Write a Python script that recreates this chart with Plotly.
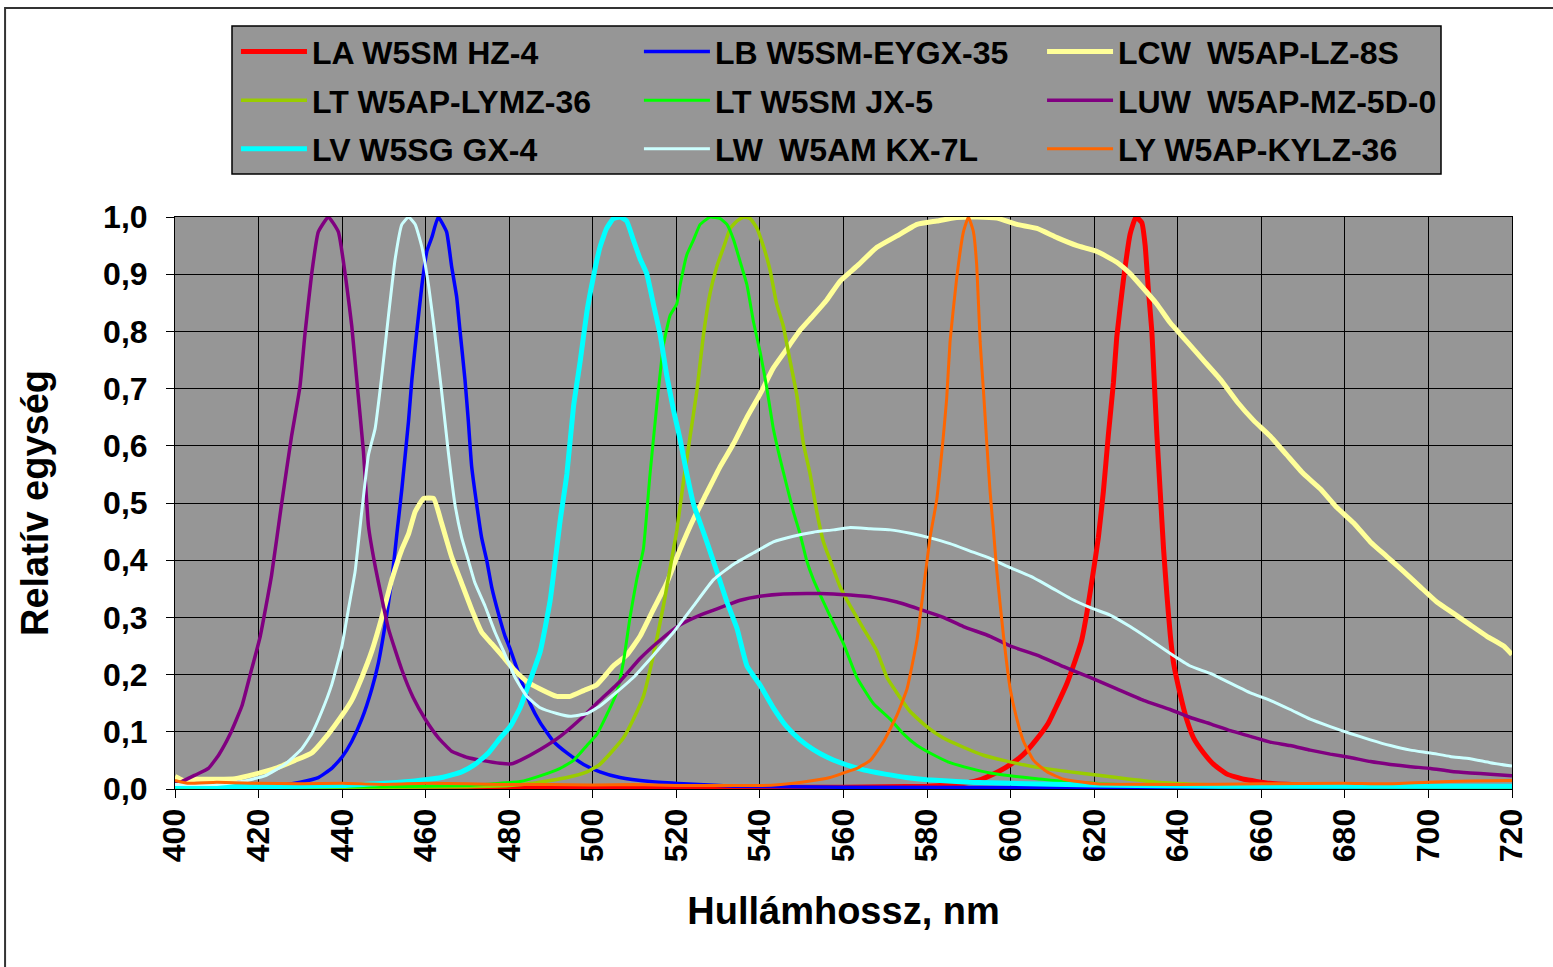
import plotly.graph_objects as go

# ---------------- data ----------------
names = ["LA W5SM HZ-4", "LB W5SM-EYGX-35", "LCW\u2002W5AP-LZ-8S",
         "LT W5AP-LYMZ-36", "LT W5SM JX-5", "LUW\u2002W5AP-MZ-5D-0",
         "LV W5SG GX-4", "LW\u2002W5AM KX-7L", "LY W5AP-KYLZ-36"]
colors = ["#FF0000", "#0000FF", "#FFFF99", "#99CC00", "#00FF00",
          "#800080", "#00FFFF", "#CCFFFF", "#FF6600"]
widths = [5, 3.5, 5, 3.5, 3, 3.5, 5, 3, 3]
legend_column = ["legend", "legend2", "legend3"] * 3

la_x = [400, 500, 560, 580, 586, 589, 593, 597, 600, 603, 606, 609, 611, 613.5, 615, 617, 618.3, 620, 621,
        622.2, 623.4, 624.6, 625.4, 627, 628.6, 630, 631.4, 632.2, 633, 633.8, 634.2, 635, 635.8, 636.6,
        637.4, 638.2, 639, 640.6, 642.2, 643.8, 646.2, 648.6, 651.8, 655.8, 662, 670, 690, 720]
la_y = [0.003, 0.003, 0.003, 0.005, 0.008, 0.01, 0.017, 0.03, 0.043, 0.06, 0.085, 0.115, 0.145, 0.185, 0.215,
        0.26, 0.31, 0.39, 0.44, 0.52, 0.62, 0.71, 0.79, 0.89, 0.97, 1.0, 0.99, 0.95, 0.87, 0.80, 0.74, 0.62,
        0.52, 0.42, 0.34, 0.27, 0.22, 0.165, 0.12, 0.089, 0.063, 0.043, 0.026, 0.017, 0.01, 0.007, 0.005, 0.004]

lb_x = [400, 420, 426, 430, 434.3, 437.5, 440, 442.3, 444.7, 447.1, 448.7, 450.3, 451.9, 453.1, 454.3, 455.9,
        456.7, 457.9, 459.1, 460.3, 461.5, 463, 465, 466.2, 467.4, 468.2, 469.4, 470.2, 471, 472.2, 473.4,
        474.6, 475.8, 477.4, 479, 480.2, 482.6, 485, 487.4, 490.6, 493.8, 497.8, 501.7, 506.5, 513.7, 521.7,
        533.7, 560, 720]
lb_y = [0.002, 0.003, 0.007, 0.012, 0.02, 0.036, 0.056, 0.083, 0.122, 0.175, 0.221, 0.287, 0.366, 0.446,
        0.525, 0.644, 0.716, 0.802, 0.881, 0.941, 0.965, 1.0, 0.974, 0.914, 0.861, 0.802, 0.716, 0.644, 0.564,
        0.498, 0.439, 0.40, 0.353, 0.307, 0.267, 0.245, 0.195, 0.149, 0.116, 0.083, 0.063, 0.043, 0.03, 0.02,
        0.013, 0.009, 0.005, 0.003, 0.002]

lcw_x = [400, 402, 405, 410, 414.4, 419.2, 424, 428.7, 432.7, 436.7, 440, 442.3, 444.7, 447.1, 449.5, 451.9,
         454.3, 455.9, 457.5, 459.5, 461.9, 463.8, 466.2, 468.6, 471, 473.4, 475.8, 478.2, 481, 484.2, 487.4,
         491.4, 494.6, 497.8, 500.9, 504.9, 508.1, 511.3, 514.5, 517.7, 520.9, 524.1, 527.3, 530.5, 533.7,
         536.9, 540, 543.2, 546.4, 549.6, 552.8, 556, 559.2, 563.2, 568, 572.8, 577.6, 582.3, 587.1, 591.9,
         596.7, 601.5, 606.3, 611.1, 615.9, 620.6, 625.4, 628.6, 631.8, 635, 638.2, 642.2, 646.2, 650.2,
         654.2, 658.2, 662.1, 666.1, 670.1, 674.1, 678.1, 682.1, 686.1, 690.1, 694.1, 698.1, 702, 706, 710,
         714, 718, 720]
lcw_y = [0.022, 0.015, 0.017, 0.017, 0.018, 0.026, 0.036, 0.05, 0.063, 0.096, 0.129, 0.155, 0.195, 0.241, 0.30,
         0.366, 0.419, 0.446, 0.485, 0.508, 0.508, 0.465, 0.406, 0.36, 0.314, 0.274, 0.254, 0.234, 0.21, 0.188,
         0.175, 0.162, 0.162, 0.172, 0.182, 0.215, 0.234, 0.267, 0.314, 0.36, 0.419, 0.472, 0.518, 0.564, 0.604,
         0.65, 0.69, 0.736, 0.769, 0.802, 0.828, 0.855, 0.888, 0.914, 0.947, 0.967, 0.987, 0.993, 0.999, 1.0,
         0.998, 0.987, 0.98, 0.964, 0.95, 0.94, 0.921, 0.901, 0.875, 0.848, 0.815, 0.782, 0.749, 0.716, 0.677,
         0.644, 0.617, 0.584, 0.551, 0.525, 0.492, 0.465, 0.432, 0.406, 0.38, 0.353, 0.327, 0.307, 0.287,
         0.267, 0.25, 0.235]

lty_x = [400, 450, 470, 480, 485.8, 493.8, 498.6, 501.7, 505, 507.3, 509.7, 512.1, 514.5, 516.9, 518.5, 520.1,
         521.7, 523.3, 524.9, 526.5, 528.1, 529.7, 531.3, 532.9, 534.5, 536.1, 537.7, 539.3, 540.9, 542.4,
         544, 545.6, 547.2, 548.8, 550.4, 552, 553.6, 555.2, 556.8, 559.2, 561.6, 564.8, 568, 570.4, 572.8,
         576, 579.9, 583.9, 588.7, 593.5, 598.3, 604.7, 611.1, 617.5, 625.4, 635, 650, 680, 720]
lty_y = [0.003, 0.003, 0.004, 0.006, 0.01, 0.02, 0.03, 0.043, 0.069, 0.089, 0.122, 0.162, 0.234, 0.32, 0.386,
         0.452, 0.538, 0.617, 0.696, 0.795, 0.868, 0.914, 0.947, 0.98, 0.993, 1.0, 0.997, 0.98, 0.947, 0.908,
         0.848, 0.809, 0.749, 0.69, 0.604, 0.551, 0.485, 0.432, 0.40, 0.353, 0.32, 0.28, 0.241, 0.195, 0.168,
         0.135, 0.109, 0.089, 0.073, 0.059, 0.05, 0.04, 0.033, 0.027, 0.02, 0.012, 0.007, 0.005, 0.004]

ltj_x = [400, 450, 470, 477.8, 482.6, 487.4, 492.2, 495.4, 498.6, 501, 503.3, 505.7, 507.3, 508.9, 510.5, 512.1,
         513.7, 515.3, 516.9, 518.5, 520.1, 520.9, 522.5, 524.1, 525.7, 528.1, 530.5, 532.1, 533.7, 535.3,
         536.9, 538.5, 540.1, 541.6, 543.2, 544.8, 546.4, 548, 549.6, 551.2, 552.8, 555.2, 557.6, 560, 563.2,
         567.2, 571.2, 574.4, 577.6, 580.7, 585.5, 590.3, 595.1, 599.9, 606.3, 612.7, 620.6, 628.6, 650, 720]
ltj_y = [0.003, 0.004, 0.006, 0.01, 0.013, 0.023, 0.036, 0.05, 0.076, 0.096, 0.129, 0.168, 0.221, 0.30, 0.366,
         0.419, 0.551, 0.67, 0.776, 0.828, 0.848, 0.881, 0.934, 0.96, 0.987, 1.0, 0.997, 0.987, 0.96, 0.921,
         0.881, 0.815, 0.762, 0.703, 0.63, 0.578, 0.531, 0.485, 0.446, 0.399, 0.366, 0.327, 0.29, 0.254, 0.195,
         0.149, 0.122, 0.096, 0.076, 0.063, 0.046, 0.036, 0.028, 0.023, 0.018, 0.013, 0.01, 0.007, 0.004, 0.003]

luw_x = [400, 401.6, 405, 408, 410.5, 413.2, 416, 418, 420.4, 423.1, 425.5, 427.9, 429.9, 431.1, 432.7, 434.3,
         436.7, 439.1, 441.1, 442.3, 443.7, 445.1, 446.3, 447.9, 451.1, 454.3, 457, 459.9, 463, 466.2, 470,
         473.4, 477.8, 480.6, 482.6, 487.4, 492.2, 497, 501.7, 506.5, 511.3, 516.1, 520.9, 525.7, 530.5, 535.3,
         540, 545.6, 551.2, 557.6, 561.6, 567.2, 572.8, 579.2, 583.9, 588.7, 595.1, 599.9, 606.3, 612.7, 619,
         625.4, 631.8, 638.2, 643, 647.8, 652.6, 657.4, 662.1, 666.9, 671.7, 676.5, 681.3, 686.1, 690.9,
         695.7, 700.5, 705.2, 710, 714.8, 720]
luw_y = [0.01, 0.013, 0.025, 0.036, 0.06, 0.096, 0.145, 0.2, 0.267, 0.373, 0.498, 0.617, 0.703, 0.795, 0.90,
         0.974, 1.0, 0.974, 0.88, 0.81, 0.70, 0.59, 0.46, 0.39, 0.28, 0.208, 0.16, 0.122, 0.09, 0.066, 0.055,
         0.05, 0.045, 0.044, 0.05, 0.069, 0.092, 0.122, 0.155, 0.188, 0.228, 0.26, 0.287, 0.304, 0.317, 0.33,
         0.337, 0.341, 0.342, 0.341, 0.339, 0.335, 0.327, 0.312, 0.30, 0.284, 0.267, 0.25, 0.234, 0.214, 0.195,
         0.175, 0.155, 0.139, 0.125, 0.114, 0.102, 0.092, 0.082, 0.076, 0.068, 0.061, 0.055, 0.048, 0.043,
         0.039, 0.036, 0.031, 0.028, 0.026, 0.023]

lv_x = [400, 420, 440, 450, 456, 463.8, 468.6, 471.8, 475, 477.8, 480.2, 482.6, 485, 487.4, 489.8, 492.2, 493.8,
        495.4, 497, 498.6, 500.1, 501.7, 503.3, 504.9, 506.5, 508.1, 509.7, 511.3, 512.9, 514.5, 516.1, 517.7,
        519.3, 520.9, 522.5, 524.1, 525.7, 527.3, 529.7, 532.1, 534.5, 536.9, 540, 543.2, 546.4, 549.6, 552.8,
        556, 559.2, 565, 570, 575, 580, 590, 600, 620, 650, 720]
lv_y = [0.005, 0.004, 0.006, 0.01, 0.013, 0.02, 0.03, 0.043, 0.063, 0.089, 0.109, 0.142, 0.19, 0.24, 0.33,
        0.47, 0.551, 0.67, 0.749, 0.835, 0.894, 0.947, 0.98, 0.997, 1.0, 0.993, 0.96, 0.927, 0.901, 0.848,
        0.795, 0.723, 0.663, 0.611, 0.551, 0.498, 0.465, 0.432, 0.38, 0.327, 0.281, 0.215, 0.182, 0.142, 0.109,
        0.086, 0.069, 0.056, 0.046, 0.033, 0.026, 0.02, 0.016, 0.012, 0.01, 0.007, 0.005, 0.005]

lw_x = [400, 410, 416, 421.5, 426.3, 430.3, 432.7, 435.1, 437.5, 439.9, 441.5, 443.1, 444.7, 446.3, 447.9,
        449.5, 451.1, 452.7, 454.3, 455.9, 457.5, 459.1, 460.7, 462.2, 463.8, 465.4, 467, 468.6, 470.2,
        471.8, 474.2, 476.6, 479, 481.4, 484.2, 487.4, 491.4, 494.6, 498.6, 501.7, 505, 509.7, 514.5, 519.3,
        524.1, 528.9, 533.7, 538.5, 543.2, 548, 552.8, 557.6, 561.6, 566.4, 571.2, 576, 580.7, 585.5, 590.3,
        595.1, 599.9, 604.7, 609.5, 614.3, 619.1, 623.8, 628.6, 633.4, 638.2, 643, 647.8, 652.6, 657.4,
        662.1, 666.9, 671.7, 676.5, 681.3, 686.1, 690.9, 695.7, 700.5, 705.2, 710, 714.8, 720]
lw_y = [0.008, 0.008, 0.013, 0.023, 0.043, 0.07, 0.096, 0.135, 0.182, 0.248, 0.314, 0.38, 0.485, 0.584, 0.63,
        0.723, 0.828, 0.927, 0.987, 1.0, 0.987, 0.947, 0.88, 0.795, 0.696, 0.59, 0.498, 0.44, 0.40, 0.36,
        0.32, 0.274, 0.235, 0.195, 0.162, 0.142, 0.132, 0.127, 0.132, 0.145, 0.165, 0.195, 0.234, 0.274, 0.32,
        0.366, 0.393, 0.413, 0.432, 0.442, 0.449, 0.453, 0.457, 0.455, 0.453, 0.447, 0.439, 0.429, 0.416,
        0.403, 0.387, 0.372, 0.353, 0.333, 0.317, 0.304, 0.284, 0.261, 0.237, 0.215, 0.202, 0.185, 0.168,
        0.155, 0.139, 0.122, 0.109, 0.097, 0.086, 0.076, 0.068, 0.063, 0.057, 0.053, 0.046, 0.04]

ly_x = [400, 403, 410, 420, 430, 440, 450, 460, 470, 480, 490, 500, 510, 520, 530, 540, 545, 550, 556.8, 560,
        563.2, 566.4, 569.6, 572.8, 575.2, 577.6, 579.2, 580.7, 582.3, 583.9, 584.7, 585.5, 587.1, 588.7,
        589.9, 591.1, 591.9, 592.7, 593.5, 594.3, 595.1, 595.9, 596.7, 598.3, 599.9, 601.5, 603.1, 605.5,
        608.7, 612.7, 620.6, 640, 660, 680, 690, 700, 710, 720]
ly_y = [0.015, 0.01, 0.012, 0.01, 0.009, 0.01, 0.008, 0.01, 0.009, 0.008, 0.008, 0.007, 0.008, 0.006, 0.006,
        0.006, 0.008, 0.012, 0.02, 0.028, 0.036, 0.05, 0.083, 0.129, 0.175, 0.261, 0.353, 0.439, 0.505, 0.617,
        0.683, 0.782, 0.894, 0.974, 1.0, 0.974, 0.914, 0.782, 0.696, 0.604, 0.518, 0.452, 0.38, 0.267, 0.175,
        0.122, 0.083, 0.05, 0.03, 0.017, 0.009, 0.008, 0.009, 0.01, 0.009, 0.012, 0.014, 0.015]

series_x = [la_x, lb_x, lcw_x, lty_x, ltj_x, luw_x, lv_x, lw_x, ly_x]
series_y = [la_y, lb_y, lcw_y, lty_y, ltj_y, luw_y, lv_y, lw_y, ly_y]

x_ticks = list(range(400, 721, 20))
y_ticks = [i / 10 for i in range(11)]

FONT = "Liberation Sans, Arial, sans-serif"
LEG_FONT = dict(family=FONT, size=32, color="black", weight="bold")

fig = go.Figure()
for i, (nm, xs, ys, c, w, lg) in enumerate(zip(names, series_x, series_y, colors, widths, legend_column)):
    fig.add_trace(go.Scatter(x=xs, y=ys, mode="lines", name=nm, legend=lg, legendgroup=f"g{i}",
                             line=dict(color=c, width=w, shape="spline", smoothing=0.4)))

legend_common = dict(orientation="v", yanchor="top", xanchor="left", y=1.337,
                     bgcolor="rgba(0,0,0,0)", borderwidth=0, font=LEG_FONT,
                     itemwidth=66, tracegroupgap=4, traceorder="grouped")

fig.update_layout(
    width=1553, height=967,
    margin=dict(l=175, r=41, t=217, b=178),
    paper_bgcolor="white", plot_bgcolor="#969696",
    font=dict(family=FONT, color="black", size=30, weight="bold"),
    showlegend=True,
    legend=dict(x=0.0456, **legend_common),
    legend2=dict(x=0.3470, **legend_common),
    legend3=dict(x=0.6485, **legend_common),
    xaxis=dict(range=[400, 720], tickmode="array", tickvals=x_ticks, ticktext=[str(v) for v in x_ticks],
               tickangle=-90, showgrid=True, gridcolor="black", gridwidth=1,
               showline=True, linecolor="black", linewidth=1, mirror=True,
               ticks="outside", ticklen=8, tickcolor="black", zeroline=False,
               tickfont=dict(family=FONT, size=32, weight="bold"), ticklabelstandoff=-2,
               title=dict(text="Hullámhossz, nm", font=dict(family=FONT, size=38, weight="bold"), standoff=36)),
    yaxis=dict(range=[0, 1], tickmode="array", tickvals=y_ticks,
               ticktext=[f"{v:.1f}".replace(".", ",") for v in y_ticks],
               showgrid=True, gridcolor="black", gridwidth=1,
               showline=True, linecolor="black", linewidth=1, mirror=True,
               ticks="outside", ticklen=8, tickcolor="black", zeroline=False,
               tickfont=dict(family=FONT, size=32, weight="bold"), ticklabelstandoff=12,
               title=dict(text="Relatív egység", font=dict(family=FONT, size=38, weight="bold"), standoff=42)),
    shapes=[
        dict(type="rect", xref="paper", yref="paper",
             x0=-0.1271, x1=1.04, y0=-0.33, y1=1.3654,
             line=dict(color="#333333", width=2), fillcolor="rgba(0,0,0,0)", layer="below"),
        dict(type="rect", xref="paper", yref="paper",
             x0=0.04263, x1=0.9469, y0=1.0752, y1=1.3339,
             line=dict(color="black", width=1.5), fillcolor="#969696", layer="above"),
    ],
)

fig.write_html("out.html", config={"displayModeBar": False},
               post_script="document.body.style.margin='0';")
